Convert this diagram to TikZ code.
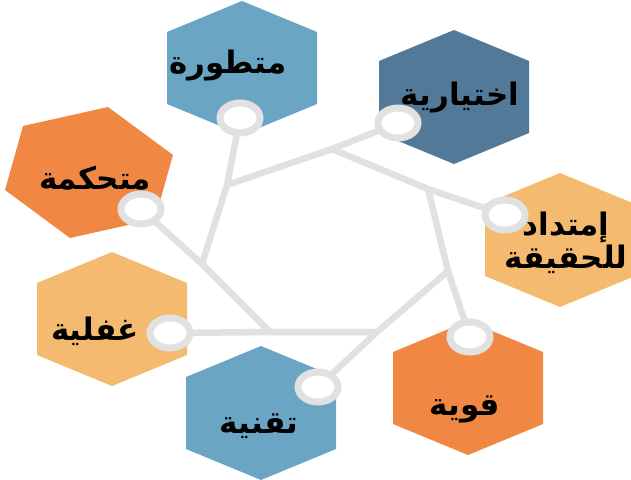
\documentclass[tikz,border=0pt]{standalone}
\usepackage{fontspec}
\usetikzlibrary{shapes.geometric}
\newfontfamily\arabicfont[Script=Arabic]{DejaVu Sans}
\TeXXeTstate=1
\definecolor{lblue}{HTML}{6AA6C4}
\definecolor{dblue}{HTML}{527A98}
\definecolor{orng}{HTML}{F08844}
\definecolor{lorng}{HTML}{F4BA70}
\definecolor{lgray}{HTML}{E1E1E1}
\tikzset{
  spoke/.style={draw=lgray, line width=6.5pt, line join=round, line cap=round},
  ring/.style={ellipse, draw=lgray, line width=7pt, fill=white, minimum width=40pt, minimum height=30pt, inner sep=0pt},
  lbl/.style={font=\arabicfont\bfseries\fontsize{31}{33}\selectfont, text=black, align=center, inner sep=0pt},
}
\newcommand\hexat[3]{%
  \fill[#1] (#2,#3) ++(0,-67) -- ++(75,31) -- ++(0,72) -- ++(-75,31) -- ++(-75,-31) -- ++(0,-72) -- cycle;}
\begin{document}
\begin{tikzpicture}[x=1pt,y=-1pt]
\useasboundingbox (0,0) rectangle (631,479);
% hexagons
\hexat{lblue}{242}{68}
\hexat{dblue}{454}{97}
\hexat{lorng}{560}{240}
\hexat{orng}{468}{388}
\hexat{lblue}{261}{413}
\hexat{lorng}{112}{319}
\fill[orng] (108,107) -- (23,126) -- (5,190) -- (70,238) -- (155,219) -- (173,155) -- cycle;
% inner vertices
\coordinate (v1) at (332,149);
\coordinate (v2) at (428,189);
\coordinate (v3) at (448,271);
\coordinate (v4) at (377,332);
\coordinate (v5) at (270,332);
\coordinate (v6) at (202,264);
\coordinate (v7) at (227,185);
% ring centres
\coordinate (pmt) at (240,118);
\coordinate (pik) at (398,123);
\coordinate (pim) at (505,215);
\coordinate (pqw) at (470,337);
\coordinate (ptq) at (318,387);
\coordinate (pgh) at (170,333);
\coordinate (pmk) at (141,209);
% connectors
\draw[spoke] (pmt) -- (v7) -- (v6);
\draw[spoke] (pik) -- (v1) -- (v7);
\draw[spoke] (pim) -- (v2) -- (v1);
\draw[spoke] (pqw) -- (v3) -- (v2);
\draw[spoke] (ptq) -- (v4) -- (v3);
\draw[spoke] (pgh) -- (v5) -- (v4);
\draw[spoke] (pmk) -- (v6) -- (v5);
% rings
\node[ring] (cmt) at (pmt) {};
\node[ring] (cik) at (pik) {};
\node[ring] (cim) at (pim) {};
\node[ring] (cqw) at (pqw) {};
\node[ring] (ctq) at (ptq) {};
\node[ring] (cgh) at (pgh) {};
\node[ring] (cmk) at (pmk) {};
% labels
\node[lbl] (tmt) at (228,66) {\beginR متطورة\endR};
\node[lbl] (tik) at (460,98) {\beginR اختيارية\endR};
\node[lbl] (tmk) at (95,178) {\beginR متحكمة\endR};
\node[lbl] (tim) at (566,243) {\beginR إمتداد\endR\\\beginR للحقيقة\endR};
\node[lbl] (tgh) at (95,331) {\beginR غفلية\endR};
\node[lbl] (ttq) at (259,426) {\beginR تقنية\endR};
\node[lbl] (tqw) at (465,409) {\beginR قوية\endR};
\end{tikzpicture}
\end{document}
